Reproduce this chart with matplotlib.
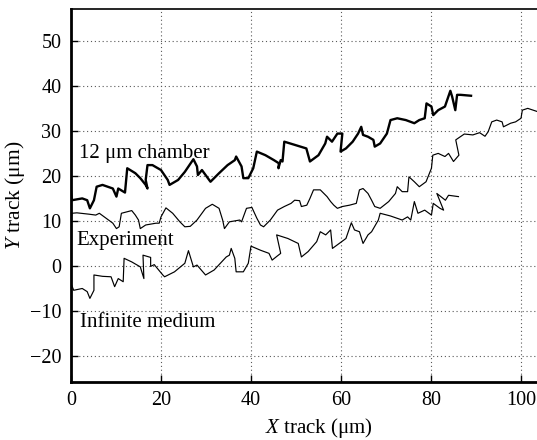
import numpy as np
import matplotlib
matplotlib.use("Agg")
import matplotlib.pyplot as plt

plt.rcParams['font.family'] = ['Liberation Serif', 'DejaVu Serif']
plt.rcParams['mathtext.fontset'] = 'custom'
plt.rcParams['mathtext.it'] = 'Liberation Serif:italic'
plt.rcParams['mathtext.rm'] = 'Liberation Serif'

# 12 um chamber track (thick)
chamber_x = [0.0, 0.2, 2.5, 3.6, 4.2, 5.1, 5.7, 7.0, 9.3, 10.1, 10.5, 12.0, 12.5,
             14.3, 15.4, 16.6, 17.0, 16.6, 17.0, 18.1, 20.0, 21.5, 21.9, 23.8,
             25.3, 27.2, 28.0, 28.2, 29.1, 31.0, 32.9, 34.8, 36.4, 36.7, 37.9,
             38.3, 39.4, 40.5, 41.3, 43.2, 45.1, 46.2, 46.1, 46.6, 47.0, 47.4,
             49.7, 52.3, 53.1, 55.0, 56.5, 56.9, 58.0, 59.2, 60.3, 59.9, 61.1,
             62.6, 63.8, 64.5, 64.9, 66.0, 67.2, 67.5, 68.7, 70.2, 71.0, 72.5,
             74.4, 76.3, 77.4, 78.6, 79.0, 80.1, 80.5, 81.6, 83.1, 84.3, 84.7,
             85.4, 85.8, 86.6, 88.9]
chamber_y = [16.6, 14.7, 15.1, 14.7, 12.9, 14.7, 17.7, 18.1, 17.3, 15.5, 17.3,
             16.4, 21.8, 20.7, 19.6, 18.1, 17.3, 19.2, 22.5, 22.5, 21.4, 19.2,
             18.1, 19.2, 21.0, 23.8, 22.2, 20.3, 21.4, 18.8, 20.7, 22.5, 23.6,
             24.4, 22.2, 19.6, 19.6, 21.8, 25.5, 24.7, 23.6, 22.9, 21.8, 23.6,
             23.3, 27.7, 27.0, 26.2, 23.3, 24.7, 27.3, 28.8, 27.7, 29.5, 29.5,
             25.5, 26.2, 27.7, 29.5, 31.0, 29.2, 28.8, 28.1, 26.6, 27.3, 29.5,
             32.5, 32.9, 32.5, 31.8, 32.5, 32.9, 36.2, 35.5, 33.6, 34.7, 35.5,
             39.0, 37.7, 34.7, 38.1, 38.1, 37.9]

# experiment track (thin)
exp_x = [0.0, 0.2, 1.3, 4.0, 5.5, 6.3, 7.8, 9.3, 10.1, 10.7, 11.2, 13.5, 14.3,
         15.0, 15.4, 16.6, 18.9, 19.6, 20.0, 21.1, 22.6, 24.2, 25.3, 26.5,
         28.0, 29.9, 31.4, 32.9, 33.7, 34.1, 35.2, 37.5, 37.9, 39.0, 40.2,
         41.3, 42.1, 42.8, 44.3, 45.9, 47.4, 48.9, 49.7, 50.8, 51.2, 52.4,
         53.1, 53.9, 55.4, 56.9, 57.7, 58.4, 59.2, 60.3, 61.9, 63.4, 64.1,
         64.9, 66.0, 66.8, 67.5, 68.7, 70.6, 72.1, 72.5, 73.6, 74.8, 75.1,
         76.3, 77.4, 78.9, 80.1, 80.4, 81.6, 83.1, 83.9, 85.0, 86.2, 85.5,
         87.4, 89.3, 90.8, 92.0, 92.7, 93.5, 94.6, 95.8, 96.1, 97.7, 98.8,
         100.0, 100.3, 101.5, 103.6]
exp_y = [10.3, 11.8, 11.9, 11.6, 11.4, 11.8, 10.7, 9.6, 8.4, 8.8, 11.8, 12.4,
         11.4, 10.3, 8.4, 9.2, 9.6, 9.6, 11.0, 13.0, 11.8, 9.9, 8.8, 8.9, 10.3,
         12.9, 13.8, 12.9, 10.3, 8.4, 9.9, 10.3, 9.9, 12.9, 13.1, 10.7, 9.2,
         8.8, 10.3, 12.5, 13.3, 14.0, 14.7, 14.6, 13.3, 13.6, 15.1, 17.0, 17.0,
         15.5, 14.4, 13.6, 12.9, 13.3, 13.6, 14.0, 17.0, 17.3, 16.2, 14.7,
         13.3, 12.9, 14.4, 16.2, 17.7, 16.6, 16.6, 19.9, 18.8, 17.7, 18.8,
         21.8, 24.7, 25.1, 24.4, 25.1, 23.3, 24.7, 28.1, 29.4, 29.2, 29.7,
         28.9, 29.9, 32.1, 32.5, 32.1, 31.0, 31.8, 32.1, 32.9, 34.7, 35.1, 34.4]

# infinite medium track (thin)
inf_x = [0.0, 0.6, 2.5, 3.6, 4.2, 5.1, 5.1, 7.0, 8.9, 9.7, 10.5, 11.6, 11.8,
         13.5, 15.4, 16.2, 16.0, 17.7, 17.7, 18.5, 20.4, 20.8, 23.0, 25.3,
         26.1, 27.2, 28.0, 29.9, 31.8, 34.5, 35.2, 35.6, 36.4, 36.7, 38.3,
         39.4, 40.0, 42.1, 44.0, 44.7, 45.7, 46.6, 45.7, 48.2, 50.5, 51.2,
         52.7, 54.6, 55.4, 56.6, 57.7, 58.1, 59.2, 61.1, 62.3, 63.0, 64.1,
         64.9, 66.0, 66.8, 68.3, 68.7, 71.0, 73.6, 74.8, 75.5, 76.3, 77.1,
         78.6, 80.1, 80.5, 82.0, 82.8, 81.3, 83.2, 83.9, 86.1]
inf_y = [-3.8, -5.3, -4.9, -5.6, -7.1, -5.3, -1.9, -2.2, -2.3, -4.5, -2.7,
         -3.4, 1.8, 1.0, -0.1, -2.7, 2.5, 2.0, 0.0, 0.4, -1.9, -2.3, -1.2, 0.7,
         3.5, -0.1, 0.3, -1.9, -0.8, 2.1, 2.5, 4.0, 1.8, -1.2, -1.2, 0.7, 4.5,
         3.6, 2.9, 1.4, 2.2, 2.9, 7.0, 6.2, 5.1, 2.1, 3.3, 5.5, 7.7, 7.0, 8.1,
         4.0, 4.8, 6.2, 9.7, 8.1, 7.7, 5.1, 7.0, 7.7, 10.3, 11.8, 11.2, 10.3,
         11.0, 10.3, 14.4, 11.8, 12.5, 11.4, 14.0, 12.9, 12.5, 16.2, 14.7,
         15.8, 15.5]

fig = plt.figure(figsize=(5.37, 4.40), dpi=100)
ax = fig.add_axes([0.1322, 0.1325, 0.9218, 0.8464])

ax.plot(chamber_x, chamber_y, color='black', linewidth=1.7)
ax.plot(exp_x, exp_y, color='black', linewidth=0.85)
ax.plot(inf_x, inf_y, color='black', linewidth=0.85)

ax.text(1.7, 25.1, '12 μm chamber', fontsize=15, va='center', ha='left')
ax.text(1.1, 5.8, 'Experiment', fontsize=15, va='center', ha='left')
ax.text(1.9, -12.5, 'Infinite medium', fontsize=15, va='center', ha='left')

ax.set_xlim(0, 110)
ax.set_ylim(-25.6, 57.1)
ax.set_xticks([0, 20, 40, 60, 80, 100])
ax.set_yticks([-20, -10, 0, 10, 20, 30, 40, 50])
ax.set_yticklabels(['\u221220', '\u221210', '0', '10', '20', '30', '40', '50'])
ax.tick_params(direction='in', length=5, width=1.0, labelsize=14.5, pad=7)
ax.grid(True, linestyle=(0, (1, 2.5)), color='0.35', linewidth=0.8)

for side in ['left', 'bottom']:
    ax.spines[side].set_linewidth(2.0)
ax.spines['top'].set_linewidth(1.2)
ax.spines['right'].set_visible(False)

ax.set_xlabel('$X$ track (μm)', fontsize=15, labelpad=4)
ax.set_ylabel('$Y$ track (μm)', fontsize=15.5, labelpad=2)

fig.savefig('out.png', dpi=100)
